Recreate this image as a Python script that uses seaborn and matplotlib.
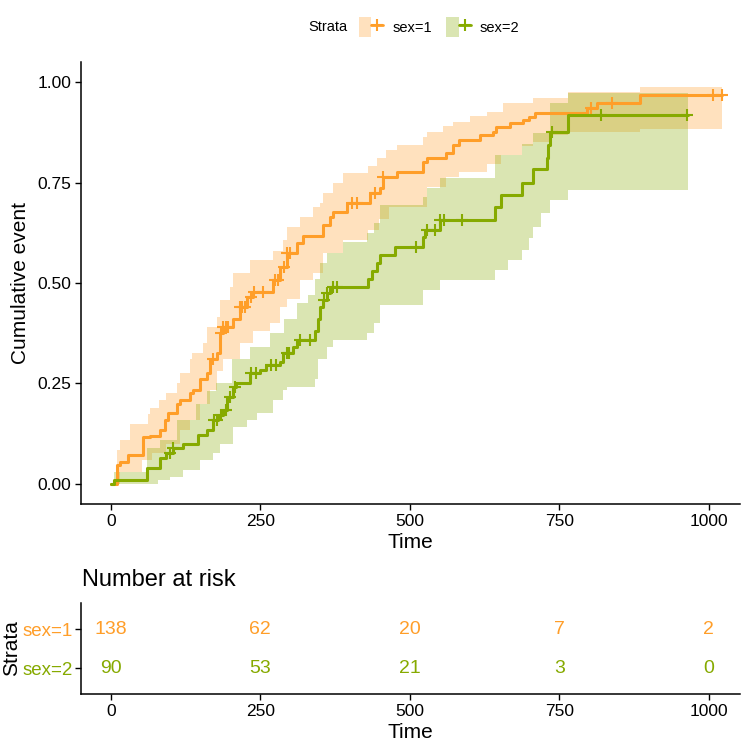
import numpy as np
import matplotlib
matplotlib.use("Agg")
import matplotlib.pyplot as plt
import seaborn as sns
from matplotlib.lines import Line2D
from matplotlib.patches import Patch
from matplotlib.legend_handler import HandlerTuple

sns.set_theme(style="ticks")
plt.rcParams['font.family'] = ['Liberation Sans', 'DejaVu Sans']
plt.rcParams['text.color'] = 'black'
plt.rcParams['axes.labelcolor'] = 'black'

COL1 = "#FF9E29"
COL2 = "#86AA00"

# ---- cumulative event step curves ----
s1_time = [0, 11, 15, 28, 53, 65, 82, 90, 95, 110, 115, 132, 137, 149, 160, 166, 177, 182, 187, 204,
           216, 227, 237, 271, 283, 294, 311, 321, 355, 366, 371, 395, 433, 450, 455, 478, 522, 528,
           561, 572, 583, 617, 639, 645, 667, 689, 700, 709, 796, 813, 885]
s1_event = [0, 0.047, 0.055, 0.072, 0.117, 0.12, 0.134, 0.16, 0.177, 0.2, 0.21, 0.226, 0.234, 0.26,
            0.276, 0.31, 0.326, 0.376, 0.39, 0.41, 0.44, 0.465, 0.478, 0.507, 0.54, 0.575, 0.6, 0.618,
            0.645, 0.664, 0.676, 0.70, 0.724, 0.736, 0.764, 0.776, 0.80, 0.81, 0.823, 0.843, 0.856,
            0.868, 0.876, 0.888, 0.898, 0.905, 0.913, 0.923, 0.936, 0.948, 0.967]
s1_end = 1022

s2_time = [0, 5, 60, 82, 93, 104, 120, 145, 160, 171, 180, 187, 194, 204, 210, 232, 249, 260, 283,
           288, 305, 311, 341, 346, 350, 355, 361, 366, 430, 437, 445, 450, 475, 522, 526, 550, 642,
           653, 687, 706, 729, 731, 734, 764]
s2_event = [0, 0.01, 0.04, 0.065, 0.077, 0.09, 0.1, 0.122, 0.134, 0.16, 0.172, 0.184, 0.216, 0.241,
            0.25, 0.276, 0.284, 0.296, 0.303, 0.326, 0.341, 0.358, 0.38, 0.41, 0.44, 0.457, 0.475,
            0.49, 0.51, 0.53, 0.55, 0.57, 0.59, 0.614, 0.632, 0.657, 0.69, 0.719, 0.749, 0.784,
            0.81, 0.843, 0.876, 0.918]
s2_end = 965

# confidence bands
s1_up_time = [0, 11, 15, 32, 62, 65, 80, 93, 110, 115, 132, 135, 154, 160, 177, 182, 199, 204, 232,
              271, 288, 294, 316, 338, 350, 355, 371, 388, 430, 445, 461, 478, 522, 528, 555, 572,
              600, 629, 656, 706, 764, 885]
s1_up = [0, 0.085, 0.11, 0.15, 0.175, 0.19, 0.21, 0.226, 0.25, 0.276, 0.31, 0.326, 0.35, 0.39,
         0.415, 0.457, 0.49, 0.525, 0.557, 0.58, 0.607, 0.64, 0.664, 0.69, 0.70, 0.724, 0.75, 0.774,
         0.79, 0.81, 0.83, 0.843, 0.863, 0.876, 0.89, 0.9, 0.915, 0.925, 0.948, 0.96, 0.975, 0.988]
s1_lo_time = [0, 15, 52, 68, 93, 115, 132, 149, 166, 177, 187, 216, 237, 266, 283, 294, 316, 338,
              355, 388, 430, 448, 466, 528, 560, 583, 629, 653, 687, 706, 734, 764, 885]
s1_lo = [0, 0.03, 0.06, 0.077, 0.1, 0.134, 0.16, 0.2, 0.234, 0.28, 0.31, 0.35, 0.38, 0.40, 0.44,
         0.46, 0.507, 0.525, 0.575, 0.607, 0.632, 0.66, 0.69, 0.74, 0.764, 0.775, 0.795, 0.818,
         0.84, 0.85, 0.868, 0.876, 0.883]

s2_up_time = [0, 5, 60, 82, 110, 143, 160, 175, 202, 232, 266, 290, 311, 330, 341, 350, 361, 388,
              428, 440, 450, 522, 528, 550, 642, 687, 706, 734, 764]
s2_up = [0, 0.03, 0.09, 0.11, 0.16, 0.2, 0.23, 0.25, 0.31, 0.34, 0.376, 0.41, 0.45, 0.47, 0.51,
         0.55, 0.575, 0.602, 0.624, 0.65, 0.694, 0.714, 0.736, 0.761, 0.818, 0.845, 0.873, 0.948,
         0.973]
s2_lo_time = [0, 79, 99, 120, 149, 171, 182, 204, 227, 244, 271, 288, 294, 341, 346, 361, 371, 428,
              440, 450, 522, 550, 642, 665, 687, 700, 706, 720, 734, 764]
s2_lo = [0, 0.01, 0.017, 0.035, 0.06, 0.077, 0.1, 0.142, 0.16, 0.177, 0.21, 0.234, 0.24, 0.26,
         0.31, 0.34, 0.358, 0.376, 0.40, 0.445, 0.483, 0.507, 0.532, 0.557, 0.582, 0.612, 0.64,
         0.674, 0.706, 0.731]

# censoring times
s1_cens = [171, 185, 188, 192, 196, 216, 220, 224, 235, 240, 254, 274, 280, 290, 294, 300, 404, 411,
           441, 455, 803, 838, 1008, 1022]
s2_cens = [99, 104, 173, 177, 185, 192, 200, 208, 235, 242, 268, 276, 294, 298, 316, 333, 356, 361,
           372, 378, 511, 528, 542, 550, 558, 587, 738, 820, 963]

# number at risk
risk_times = [0, 250, 500, 750, 1000]
risk_s1 = [138, 62, 20, 7, 2]
risk_s2 = [90, 53, 21, 3, 0]
strata = ["sex=1", "sex=2"]


def step_at(times, vals, t):
    idx = np.searchsorted(times, t, side="right") - 1
    return np.asarray(vals)[idx]


fig = plt.figure(figsize=(7.48, 7.52), dpi=100)
ax = fig.add_axes([0.1083, 0.3298, 0.8807, 0.5878])

groups = [
    (s1_time, s1_event, s1_end, s1_up_time, s1_up, s1_lo_time, s1_lo, s1_cens, COL1),
    (s2_time, s2_event, s2_end, s2_up_time, s2_up, s2_lo_time, s2_lo, s2_cens, COL2),
]
for t, v, end, ut, uv, lt, lv, cens, col in groups:
    grid = np.unique(np.concatenate([ut, lt, [end]]))
    up = step_at(ut, uv, grid)
    lo = step_at(lt, lv, grid)
    ax.fill_between(grid, lo, up, step="post", color=col, alpha=0.3, linewidth=0)

for t, v, end, ut, uv, lt, lv, cens, col in groups:
    tx = list(t) + [end]
    vx = list(v) + [v[-1]]
    sns.lineplot(x=tx, y=vx, drawstyle="steps-post", color=col, linewidth=2.2, ax=ax)
    sns.scatterplot(x=cens, y=step_at(t, v, np.array(cens)), marker="+", s=65, color=col,
                    linewidth=1.5, ax=ax, zorder=4)

ax.set_xlim(-50, 1052)
ax.set_ylim(-0.05, 1.05)
ax.set_xticks([0, 250, 500, 750, 1000])
ax.set_yticks([0, 0.25, 0.5, 0.75, 1.0])
ax.set_yticklabels(["0.00", "0.25", "0.50", "0.75", "1.00"])
ax.set_xlabel("Time", fontsize=15, labelpad=3)
ax.set_ylabel("Cumulative event", fontsize=15, labelpad=5)
sns.despine(ax=ax)

# risk table
ax2 = fig.add_axes([0.1083, 0.0771, 0.8807, 0.1210])
for row, counts, col in [(1, risk_s1, COL1), (0, risk_s2, COL2)]:
    for tt, n in zip(risk_times, counts):
        ax2.text(tt, row, str(n), color=col, fontsize=14, ha="center", va="center")
ax2.set_xlim(-50, 1052)
ax2.set_ylim(-0.667, 1.667)
ax2.set_xticks(risk_times)
ax2.set_yticks([1, 0])
ax2.set_yticklabels(strata)
ax2.set_xlabel("Time", fontsize=15, labelpad=3)
ax2.set_ylabel("Strata", fontsize=15, labelpad=1)
sns.despine(ax=ax2)
fig.text(0.1096, 0.2285, "Number at risk", fontsize=17, va="center", ha="left")

for a in (ax, ax2):
    a.tick_params(axis="both", direction="out", length=4, width=1, color="black",
                  labelsize=12.5, labelcolor="black", pad=3)
    for sp in ("left", "bottom"):
        a.spines[sp].set_linewidth(1.1)
        a.spines[sp].set_color("black")
ax2.tick_params(axis="y", labelsize=13.5, pad=2)
for lab, col in zip(ax2.get_yticklabels(), [COL1, COL2]):
    lab.set_color(col)

# legend on top
fig.text(0.438, 0.964, "Strata", fontsize=10.5, ha="center", va="center")
handles = [
    (Patch(facecolor=COL1, alpha=0.3, linewidth=0),
     Line2D([], [], color=COL1, lw=2, marker="+", markersize=8, mew=1.5)),
    (Patch(facecolor=COL2, alpha=0.3, linewidth=0),
     Line2D([], [], color=COL2, lw=2, marker="+", markersize=8, mew=1.5)),
]
fig.legend(handles, strata, handler_map={tuple: HandlerTuple(ndivide=None, pad=0)},
           loc="center", bbox_to_anchor=(0.587, 0.964), ncol=2, frameon=False, fontsize=10.5,
           handlelength=1.7, handleheight=1.7, columnspacing=1.0, handletextpad=0.6)

fig.savefig("out.png", dpi=100)
